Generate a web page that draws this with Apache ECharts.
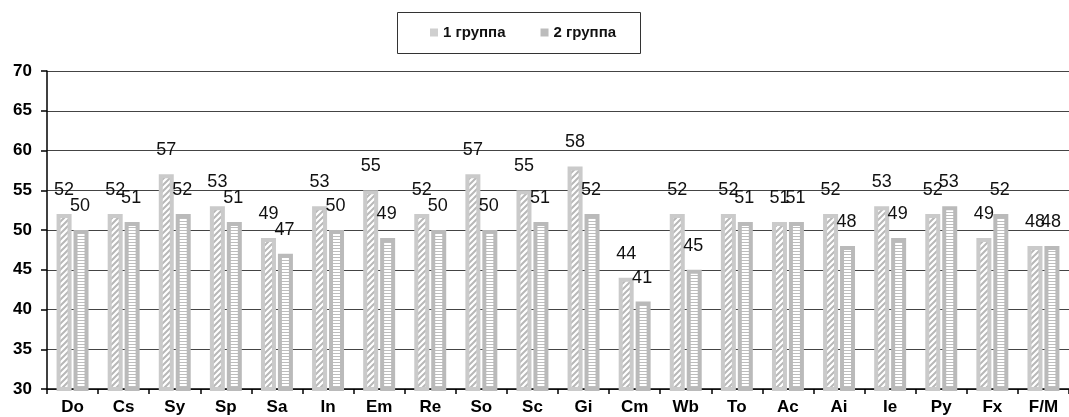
<!DOCTYPE html>
<html>
<head>
<meta charset="utf-8">
<script src="https://cdn.jsdelivr.net/npm/echarts@6/dist/echarts.min.js"></script>
<style>
  html, body { margin: 0; padding: 0; background: #fff; }
  #chart { width: 1069px; height: 417px; }
</style>
</head>
<body>
<div id="chart"></div>
<script>
// Scale categories
const categories = ['Do', 'Cs', 'Sy', 'Sp', 'Sa', 'In', 'Em', 'Re', 'So', 'Sc',
                    'Gi', 'Cm', 'Wb', 'To', 'Ac', 'Ai', 'Ie', 'Py', 'Fx', 'F/M'];
// Mean scores per group
const group1 = [52, 52, 57, 53, 49, 53, 55, 52, 57, 55, 58, 44, 52, 52, 51, 52, 53, 52, 49, 48];
const group2 = [50, 51, 52, 51, 47, 50, 49, 50, 50, 51, 52, 41, 45, 51, 51, 48, 49, 53, 52, 48];
const seriesNames = ['1 группа', '2 группа'];

const FONT = '"Liberation Sans", Arial, sans-serif';

// Diagonal hatch fill for the first group
function diagonalPattern() {
  const c = document.createElement('canvas');
  c.width = 6; c.height = 6;
  const g = c.getContext('2d');
  g.fillStyle = '#ffffff';
  g.fillRect(0, 0, 6, 6);
  g.strokeStyle = '#b8b8b8';
  g.lineWidth = 2;
  g.beginPath();
  g.moveTo(-1, 7); g.lineTo(7, -1);
  g.moveTo(-4, 4); g.lineTo(4, -4);
  g.moveTo(2, 10); g.lineTo(10, 2);
  g.stroke();
  return c;
}
// Horizontal stripe fill for the second group
function stripePattern() {
  const c = document.createElement('canvas');
  c.width = 4; c.height = 3;
  const g = c.getContext('2d');
  g.fillStyle = '#bdbdbd';
  g.fillRect(0, 0, 4, 3);
  g.fillStyle = '#ffffff';
  g.fillRect(0, 0, 4, 2);
  return c;
}

const chart = echarts.init(document.getElementById('chart'));

const labelBase = {
  show: true,
  position: 'top',
  distance: 15,
  fontFamily: FONT,
  fontSize: 18,
  color: '#111'
};

chart.setOption({
  animation: false,
  backgroundColor: '#fff',
  graphic: [{
    type: 'rect',
    shape: { x: 397.5, y: 12.5, width: 243, height: 41 },
    style: { fill: '#fff', stroke: '#333', lineWidth: 1 },
    z: 0
  }],
  legend: {
    left: 430,
    top: 25,
    itemWidth: 8,
    itemHeight: 8,
    itemGap: 35,
    padding: 0,
    icon: 'rect',
    z: 10,
    textStyle: { fontFamily: FONT, fontSize: 15, fontWeight: 'bold', color: '#111' },
    data: [
      { name: seriesNames[0], itemStyle: { color: '#cfcfcf', borderWidth: 0 } },
      { name: seriesNames[1], itemStyle: { color: '#bcbcbc', borderWidth: 0 } }
    ]
  },
  grid: { left: 47, top: 71, width: 1029, height: 318, containLabel: false },
  xAxis: {
    type: 'category',
    data: categories,
    axisLine: { lineStyle: { color: '#000', width: 1.5 } },
    axisTick: { show: true, alignWithLabel: false, length: 5, lineStyle: { color: '#000', width: 1.5 } },
    axisLabel: { fontFamily: FONT, fontSize: 17, fontWeight: 'bold', color: '#000', margin: 10, interval: 0 },
    splitLine: { show: false }
  },
  yAxis: {
    type: 'value',
    min: 30,
    max: 70,
    interval: 5,
    axisLine: { show: true, lineStyle: { color: '#000', width: 1.5 } },
    axisTick: { show: true, length: 6, lineStyle: { color: '#000', width: 1.5 } },
    axisLabel: { fontFamily: FONT, fontSize: 17, fontWeight: 'bold', color: '#000', margin: 15 },
    splitLine: { show: true, lineStyle: { color: '#444', width: 1 } }
  },
  series: [
    {
      name: seriesNames[0],
      type: 'bar',
      data: group1,
      barWidth: 15,
      barGap: '13%',
      itemStyle: {
        color: { image: diagonalPattern(), repeat: 'repeat' },
        borderColor: '#cacaca',
        borderWidth: 4
      },
      label: Object.assign({}, labelBase)
    },
    {
      name: seriesNames[1],
      type: 'bar',
      data: group2,
      barWidth: 15,
      barGap: '13%',
      itemStyle: {
        color: { image: stripePattern(), repeat: 'repeat' },
        borderColor: '#bababa',
        borderWidth: 4
      },
      label: Object.assign({}, labelBase, { offset: [-1, 0] })
    }
  ]
});
</script>
</body>
</html>
